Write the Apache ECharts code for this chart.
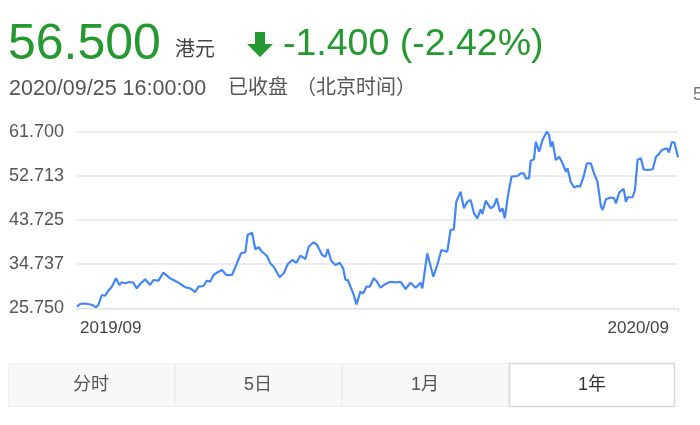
<!DOCTYPE html>
<html>
<head>
<meta charset="utf-8">
<script src="https://cdn.jsdelivr.net/npm/echarts@6/dist/echarts.min.js"></script>
<style>
html,body{margin:0;padding:0;background:#fff;}
#c{width:700px;height:425px;}
</style>
</head>
<body>
<div id="c"></div>
<script>
// Days since 2019/09/25 (x) and closing price in HKD (y)
var days = [0,1.8,4.9,9.0,11.6,13.0,15.1,17.1,19.1,21.2,
23.8,25.8,27.3,29.3,31.9,34.3,36.4,38.4,41.5,44.5,
46.5,49.6,52.6,56.7,60.8,65.9,68.9,72.0,74.0,77.0,
79.1,81.1,83.1,86.2,88.3,90.9,94.4,97.4,99.9,102.5,
103.9,106.6,108.6,110.6,112.7,115.7,117.7,119.8,123.4,125.9,
128.3,131.0,133.6,136.0,139.1,141.1,144.1,146.2,149.3,151.3,
152.7,154.8,157.4,160.0,162.1,163.5,164.9,168.2,170.2,172.6,
174.3,176.3,178.3,180.7,182.4,184.8,187.9,190.9,194.0,197.0,
200.1,203.1,206.2,209.2,210.3,213.3,217.0,219.4,221.9,225.5,
227.5,229.5,231.0,233.6,235.6,237.7,239.7,241.8,243.8,245.8,
246.9,248.9,251.9,253.9,255.6,257.6,259.1,260.5,262.5,264.6,
268.2,270.2,272.2,273.3,275.3,276.3,278.3,279.4,281.4,283.5,
286.1,287.5,288.5,289.6,291.6,293.6,295.7,297.7,298.7,300.7,
302.7,304.8,306.4,308.5,310.5,312.9,314.9,317.0,319.0,320.1,
322.1,325.1,327.1,328.2,330.2,332.9,334.3,335.3,338.4,339.8,
341.4,343.4,345.1,347.5,350.6,352.6,354.0,356.1,359.3,360.5,
362.2,363.8,365,366];
var prices = [26.08,26.63,26.73,26.48,25.95,26.42,28.46,28.31,29.33,30.15,
31.86,30.49,31.04,30.84,31.10,30.96,29.82,30.70,31.65,30.49,
31.51,31.37,33.00,31.86,31.17,30.03,29.82,29.07,30.15,30.29,
31.37,31.17,32.53,33.20,33.55,32.53,32.53,34.91,36.95,37.15,
40.67,41.14,37.76,38.17,37.27,36.40,34.91,34.22,32.06,32.87,
34.71,35.58,35.03,36.46,35.79,38.29,39.19,38.64,36.60,36.25,
37.82,35.44,34.56,35.03,33.89,31.51,31.51,28.80,26.56,29.13,
28.80,30.15,30.15,31.86,31.31,29.94,30.70,31.16,31.04,31.16,
29.68,30.96,29.94,30.96,29.82,36.95,32.18,34.56,37.62,37.27,
41.69,41.83,47.45,49.49,46.11,47.45,47.80,45.09,44.07,45.90,
44.95,47.65,46.11,46.58,48.14,45.41,46.11,44.07,48.81,52.54,
52.68,53.23,53.23,52.21,52.21,55.80,56.08,59.66,57.63,60.01,
61.70,61.03,58.65,59.66,55.94,56.61,55.27,53.56,54.25,51.46,
50.34,50.65,50.50,52.54,55.27,55.27,53.23,51.46,46.58,45.76,
47.94,48.31,48.14,47.12,49.32,50.04,47.39,48.35,48.41,49.83,
56.00,56.29,54.01,53.90,54.05,56.61,56.96,57.97,58.32,57.47,
59.56,59.50,57.90,56.50];
var yTickValues = [25.75, 34.7375, 43.725, 52.7125, 61.7];
var yTickLabels = ['25.750','34.737','43.725','52.713','61.700'];
var xTickLabels = ['2019/09','2020/09'];
var tabLabels = ['分时','5日','1月','1年'];
var headerPrice = '56.500';
var headerUnit = '港元';
var headerChange = '-1.400 (-2.42%)';
var headerTime = '2020/09/25 16:00:00';
var headerStatus = '已收盘';
var headerZone = '（北京时间）';
var edgeText = '5';

var FONT = "'Liberation Sans','Noto Sans CJK SC',Arial,sans-serif";
var GREEN = '#23992f';

var seriesData = days.map(function (d, i) { return [d, prices[i]]; });

function yLabel(v) {
  var best = 0, bd = Infinity;
  for (var i = 0; i < yTickValues.length; i++) {
    var dd = Math.abs(yTickValues[i] - v);
    if (dd < bd) { bd = dd; best = i; }
  }
  return yTickLabels[best];
}

var graphics = [
  { type: 'text', left: 8, top: 20, style: { text: headerPrice, font: '50px ' + FONT, fill: GREEN } },
  { type: 'text', left: 175, top: 40, style: { text: headerUnit, font: '20px ' + FONT, fill: '#444' } },
  { type: 'polygon', shape: { points: [[255,32],[265,32],[265,44],[273,44],[260,57],[247,44],[255,44]] }, style: { fill: GREEN } },
  { type: 'text', left: 283, top: 26, style: { text: headerChange, font: '37.5px ' + FONT, fill: GREEN } },
  { type: 'text', left: 9, top: 78, style: { text: headerTime, font: '21.5px ' + FONT, fill: '#555' } },
  { type: 'text', left: 228, top: 78, style: { text: headerStatus, font: '20px ' + FONT, fill: '#555' } },
  { type: 'text', left: 296, top: 78, style: { text: headerZone, font: '20px ' + FONT, fill: '#555' } },
  { type: 'text', x: 693, y: 95, style: { text: edgeText, font: '18px ' + FONT, fill: '#777', verticalAlign: 'middle' } }
];

var tabX = [8, 175, 342, 509];
var tabW = 166;
for (var t = 0; t < tabLabels.length; t++) {
  var active = t === tabLabels.length - 1;
  graphics.push({
    type: 'rect',
    shape: { x: tabX[t] + 0.5, y: 363.5, width: tabW - (active ? 1 : 0), height: 43 },
    style: { fill: active ? '#ffffff' : '#f8f8f8', stroke: active ? '#d9d9d9' : '#efefef', lineWidth: active ? 1.5 : 1 }
  });
  graphics.push({
    type: 'text',
    x: tabX[t] + tabW / 2, y: 385,
    style: { text: tabLabels[t], font: '18px ' + FONT, fill: active ? '#333' : '#555', align: 'center', verticalAlign: 'middle' }
  });
}

var chart = echarts.init(document.getElementById('c'), null, { renderer: 'canvas' });
chart.setOption({
  animation: false,
  backgroundColor: '#ffffff',
  grid: { left: 77, right: 22, top: 131.7, bottom: 116.7 },
  xAxis: {
    type: 'value',
    min: 0, max: 366, interval: 366,
    splitLine: { show: false },
    axisLine: { show: true, lineStyle: { color: '#e2e2e2', width: 1 } },
    axisTick: { show: true, length: 4, lineStyle: { color: '#e2e2e2' } },
    axisLabel: {
      show: true, margin: 12, fontSize: 17, color: '#444', fontFamily: FONT,
      alignMinLabel: 'left', alignMaxLabel: 'right',
      padding: [0, 9, 0, 3],
      formatter: function (v) { return v < 183 ? xTickLabels[0] : xTickLabels[1]; }
    }
  },
  yAxis: {
    type: 'value',
    min: 25.75, max: 61.7, interval: 8.9875,
    axisLine: { show: false },
    axisTick: { show: false },
    splitLine: { show: true, lineStyle: { color: '#e6e6e6', width: 1.5 } },
    axisLabel: { margin: 13, fontSize: 18, color: '#555', fontFamily: FONT, formatter: yLabel }
  },
  series: [{
    type: 'line',
    data: seriesData,
    showSymbol: false,
    smooth: false,
    lineStyle: { color: '#4487f4', width: 2.2 },
    itemStyle: { color: '#4487f4' }
  }],
  graphic: graphics
});
</script>
</body>
</html>
